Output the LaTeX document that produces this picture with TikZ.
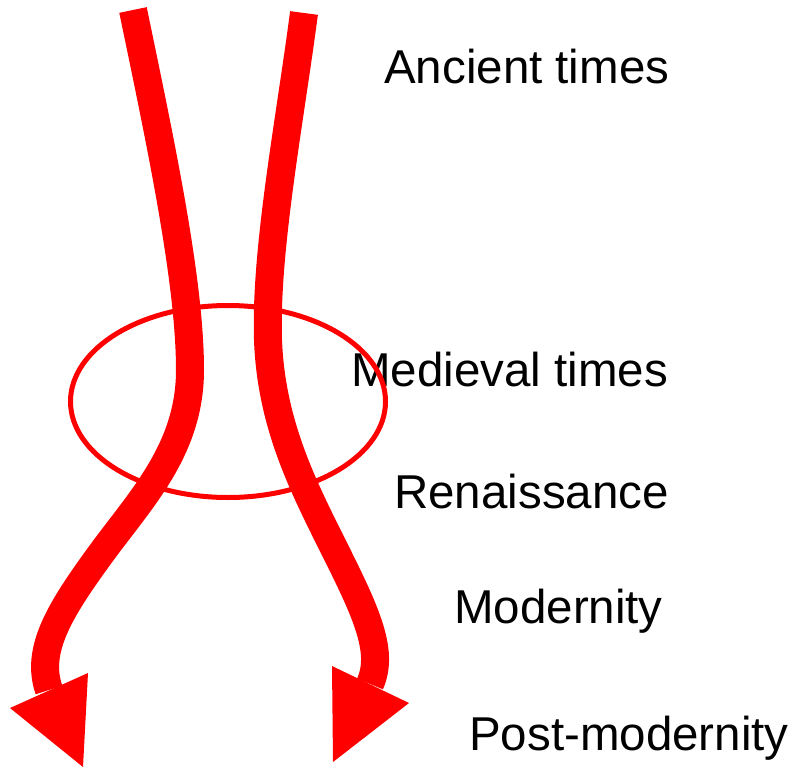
\documentclass[tikz,border=0pt]{standalone}
\usepackage{fontspec}
\setmainfont{Liberation Sans}
\definecolor{pured}{RGB}{255,0,0}
\begin{document}
\begin{tikzpicture}[x=1pt,y=-1pt,
  stem/.style={draw=pured,line width=28pt,line cap=butt},
  head/.style={fill=pured,draw=none},
  era/.style={anchor=base west,inner sep=0pt,font=\fontsize{47.5}{50}\selectfont}]
\useasboundingbox (0,0) rectangle (795,768);
% streams
\draw[stem] (133,10) .. controls (160,140) and (190,280) .. (190,370)
  .. controls (190,450) and (140,500) .. (100,555)
  .. controls (60,610) and (35,650) .. (49,690);
\fill[head] (10,708) -- (88,673) -- (83,767) -- cycle;
\draw[stem] (304,13) .. controls (290,120) and (265,250) .. (268,340)
  .. controls (271,420) and (300,480) .. (330,540)
  .. controls (365,610) and (385,650) .. (370,684);
\fill[head] (332,666) -- (409,703) -- (333,762) -- cycle;
% labels
\node[era] (ancient) at (384,83) {Ancient times};
\node[era] (medieval) at (351,386) {Medieval times};
\node[era] (renaissance) at (394,508) {Renaissance};
\node[era] (modernity) at (454,623) {Modernity};
\node[era] (postmodernity) at (469,750) {Post-modernity};
% ellipse
\draw[pured,line width=5pt] (228,401.5) ellipse [x radius=157.5, y radius=96];
\end{tikzpicture}
\end{document}
